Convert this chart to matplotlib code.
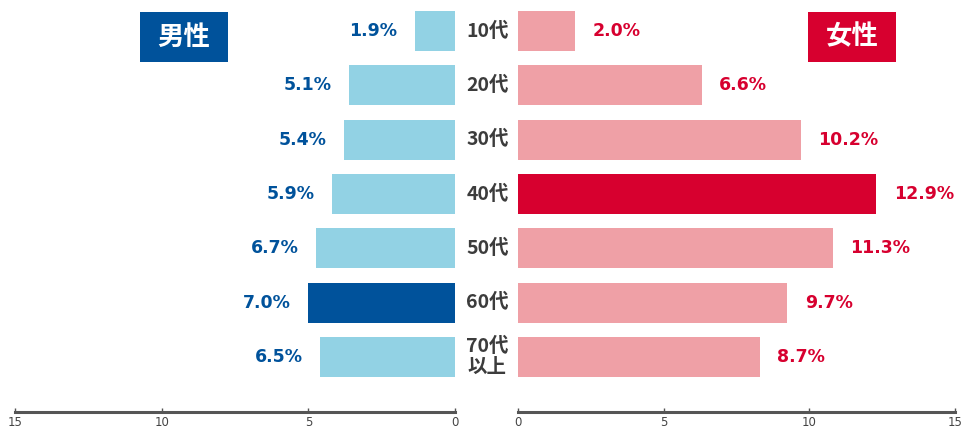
import matplotlib
matplotlib.use("Agg")
import matplotlib.pyplot as plt
from matplotlib.patches import Rectangle
from matplotlib.transforms import blended_transform_factory
import numpy as np

# age groups
ages = ["10代", "20代", "30代", "40代", "50代", "60代", "70代\n以上"]

# printed percentages
male_labels = ["1.9%", "5.1%", "5.4%", "5.9%", "6.7%", "7.0%", "6.5%"]
female_labels = ["2.0%", "6.6%", "10.2%", "12.9%", "11.3%", "9.7%", "8.7%"]

# bar lengths as drawn against the bottom axis
male_bars = [1.37, 3.6, 3.8, 4.2, 4.75, 5.0, 4.6]
female_bars = [1.95, 6.3, 9.7, 12.3, 10.8, 9.25, 8.3]

# highlighted rows
male_hi = 5
female_hi = 3

BLUE_L = "#92d2e4"
BLUE_D = "#00529b"
PINK_L = "#efa0a6"
RED = "#d7002f"
GRAY = "#3c3c3c"

W, H = 964, 430
fig = plt.figure(figsize=(W / 100, H / 100), dpi=100)

bottom = (H - 412) / H
height = 412 / H
ax_m = fig.add_axes([15 / W, bottom, (455 - 15) / W, height])
ax_f = fig.add_axes([518 / W, bottom, (955 - 518) / W, height])

y = np.arange(len(ages))
step = 54.33
ylim = (412 / step - 31 / step, -31 / step)
bh = 40 / step

num_font = dict(family=["DejaVu Sans"], fontsize=12.5, fontweight="bold")

for ax, bars, labels, hi, c_l, c_d, side in [
    (ax_m, male_bars, male_labels, male_hi, BLUE_L, BLUE_D, -1),
    (ax_f, female_bars, female_labels, female_hi, PINK_L, RED, 1),
]:
    colors = [c_d if i == hi else c_l for i in range(len(bars))]
    ax.barh(y, bars, height=bh, color=colors)
    for yi, v, t in zip(y, bars, labels):
        ax.annotate(t, (v, yi), xytext=(side * 12.5, 0), textcoords="offset points",
                    ha="left" if side > 0 else "right", va="center",
                    color=c_d, **num_font)
    ax.set_ylim(*ylim)
    ax.set_xlim(0, 15)
    for s in ["top", "left", "right"]:
        ax.spines[s].set_visible(False)
    ax.spines["bottom"].set_color("#555555")
    ax.spines["bottom"].set_linewidth(2.2)
    ax.set_yticks([])
    ax.set_xticks([0, 5, 10, 15])
    ax.tick_params(axis="x", direction="in", length=3, width=1, color="#555555",
                   labelsize=8.5, labelcolor="#444444", pad=3)

ax_m.invert_xaxis()

# age labels between the two halves
tr = blended_transform_factory(fig.transFigure, ax_m.transData)
for yi, a in zip(y, ages):
    ax_m.text(487.5 / W, yi, a, transform=tr, ha="center", va="center",
              color=GRAY, fontsize=14, fontweight="bold",
              family=["Noto Sans CJK JP"], linespacing=1.15)

# title boxes
for x0, x1, txt, col in [(140, 228, "男性", BLUE_D), (808, 896, "女性", RED)]:
    fig.add_artist(Rectangle((x0 / W, (H - 62) / H), (x1 - x0) / W, 50 / H,
                             transform=fig.transFigure, color=col, lw=0))
    fig.text((x0 + x1) / 2 / W, (H - 37) / H, txt, ha="center", va="center",
             color="white", fontsize=19, fontweight="bold", family=["Noto Sans CJK JP"])

fig.savefig("out.png", dpi=100)
